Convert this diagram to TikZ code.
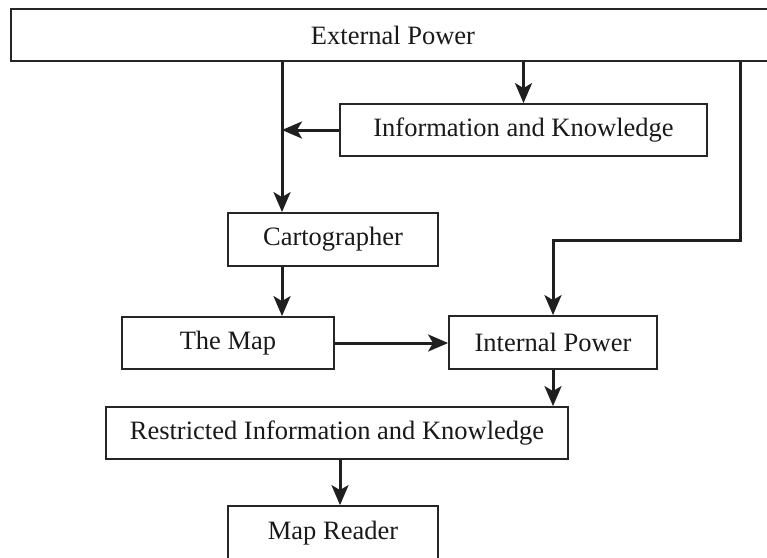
\documentclass[tikz,border=0pt]{standalone}
\usepackage{fontspec}
\setmainfont{Liberation Serif}
\usetikzlibrary{arrows.meta}
\begin{document}
\begin{tikzpicture}[x=1pt,y=-1pt,
  box/.style={draw=black!85, line width=1.8pt, fill=white, inner sep=0pt,
    font=\fontsize{26.5}{30}\selectfont, text=black!90},
  arr/.style={line width=3pt, draw=black!88,
    -{Stealth[length=20pt,width=17pt,inset=5pt]}}]
\useasboundingbox (0,0) rectangle (767,557);
\node[box, minimum width=764pt, minimum height=52pt] (ext) at (393,35) {External Power};
\node[box, minimum width=367pt, minimum height=52pt] (info) at (523.5,130) {Information and Knowledge};
\node[box, minimum width=210pt, minimum height=53pt] (car) at (333,239.5) {Cartographer};
\node[box, minimum width=212pt, minimum height=52pt] (map) at (228,343) {The Map};
\node[box, minimum width=208pt, minimum height=53pt] (int) at (553,342.5) {Internal Power};
\node[box, minimum width=462pt, minimum height=52pt] (res) at (337,433) {Restricted Information and Knowledge};
\node[box, minimum width=210pt, minimum height=54pt] (rdr) at (333,533) {Map Reader};
\coordinate (c1) at (282,0);
\coordinate (c2) at (340,0);
\coordinate (r) at (740,240);
\draw[arr] (ext.south -| c1) -- (car.north -| c1);
\draw[arr] (ext.south -| info.north) -- (info.north);
\draw[arr] (info.west) -- (info.west -| c1);
\draw[arr] (ext.south -| r) -- (r) -- (r -| int.north) -- (int.north);
\draw[arr] (car.south -| c1) -- (map.north -| c1);
\draw[arr] (map.east) -- (map.east -| int.west);
\draw[arr] (int.south) -- (int.south |- res.north);
\draw[arr] (res.south -| c2) -- (rdr.north -| c2);
\end{tikzpicture}
\end{document}
